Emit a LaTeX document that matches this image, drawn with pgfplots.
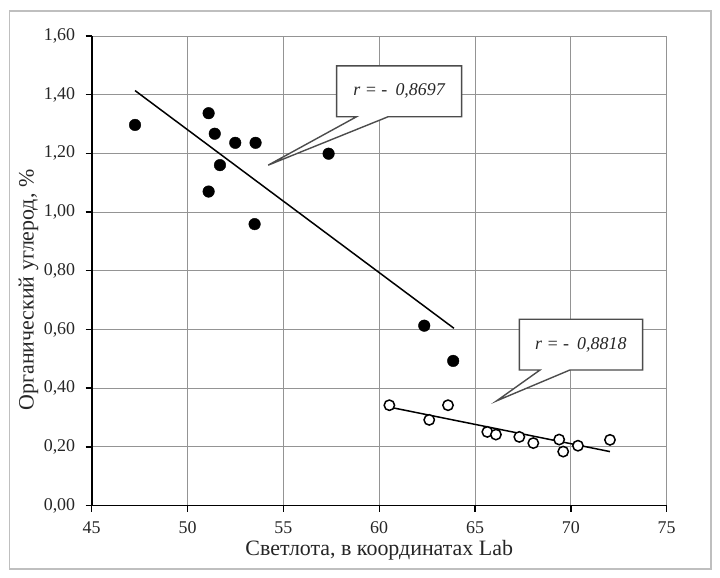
\documentclass[border=0pt]{standalone}
\usepackage{pgfplots}
\pgfplotsset{compat=1.18}
\usepackage{fontspec}
\setmainfont{Liberation Serif}
\begin{document}
\begin{tikzpicture}[x=1bp,y=1bp]
\path[use as bounding box, fill=white] (0,0) rectangle (720,578);
\draw[black!25, line width=1.6bp] (9.5,9) rectangle (711,567);
\begin{axis}[
  at={(91.7bp,72.4bp)}, anchor=south west,
  scale only axis, width=575bp, height=469.6bp,
  xmin=45, xmax=75, ymin=0, ymax=1.6,
  xtick={45,50,55,60,65,70,75},
  ytick={0,0.2,0.4,0.6,0.8,1.0,1.2,1.4,1.6},
  axis lines=left,
  axis line style={-, black, line width=1.8bp},
  grid=major,
  grid style={black!42, line width=0.9bp},
  tick align=outside,
  major tick length=6bp,
  tick style={black, line width=1.4bp},
  /pgf/number format/assume math mode=true,
  y tick label style={xshift=-7bp, /pgf/number format/fixed,/pgf/number format/fixed zerofill,/pgf/number format/precision=2,/pgf/number format/use comma},
  x tick label style={yshift=-9bp, inner sep=1bp},
  tick label style={font=\fontsize{18}{20}\selectfont, black!85},
  label style={font=\fontsize{22}{24}\selectfont, black!85, inner sep=1bp},
  xlabel={Светлота, в координатах Lab},
  ylabel={Органический углерод, \%},
  xlabel style={at={(axis description cs:0.5,-0.095)}, anchor=center},
  ylabel style={at={(axis description cs:-0.110,0.459)}, anchor=center},
  clip=false,
]
% trend lines
\addplot[black, line width=1.5bp] coordinates {(47.26,1.414) (63.90,0.604)};
\addplot[black, line width=1.5bp] coordinates {(60.65,0.334) (72.04,0.184)};
% filled points
\addplot[only marks, mark=*, mark size=5.8bp, mark options={fill=black, draw=black}] coordinates {
(47.26,1.297) (51.10,1.337) (51.42,1.267) (52.49,1.236) (53.55,1.236)
(51.69,1.160) (51.10,1.070) (53.50,0.959) (57.36,1.199) (62.35,0.613) (63.86,0.493)};
% open points
\addplot[only marks, mark=*, mark size=5.2bp, mark options={draw=black, fill=white, line width=1.5bp}] coordinates {
(60.53,0.342) (62.61,0.292) (63.59,0.342) (65.64,0.251) (66.09,0.242) (67.31,0.234)
(68.04,0.213) (69.39,0.225) (69.60,0.184) (70.37,0.204) (72.04,0.224)};
% callouts
\draw[black!70, line width=1.4bp, fill=white]
  (axis cs:57.78,1.498) -- (axis cs:64.30,1.498) -- (axis cs:64.30,1.325)
  -- (axis cs:60.47,1.325) -- (axis cs:54.21,1.160) -- (axis cs:58.82,1.325)
  -- (axis cs:57.78,1.325) -- cycle;
\node[font=\fontsize{18}{20}\selectfont\itshape, black!85] at (axis cs:61.04,1.412) {r = -\hspace{0.45em}0,8697};
\draw[black!70, line width=1.4bp, fill=white]
  (axis cs:67.31,0.635) -- (axis cs:73.74,0.635) -- (axis cs:73.74,0.462)
  -- (axis cs:69.95,0.462) -- (axis cs:66.13,0.357) -- (axis cs:68.39,0.462)
  -- (axis cs:67.31,0.462) -- cycle;
\node[font=\fontsize{18}{20}\selectfont\itshape, black!85] at (axis cs:70.52,0.548) {r = -\hspace{0.45em}0,8818};
\end{axis}
\end{tikzpicture}
\end{document}
